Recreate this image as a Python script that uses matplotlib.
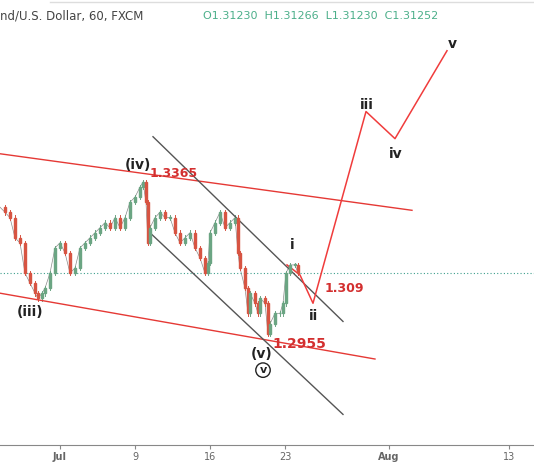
import matplotlib
matplotlib.use("Agg")
import matplotlib.pyplot as plt

# time index (chart units) and closing prices
t = [0,5,10,15,20,25,30,35,38,42,45,50,55,60,65,70,75,80,85,90,95,100,105,110,115,120,125,130,135,140,143,146,148,150,155,160,165,170,175,180,185,190,195,200,205,208,210,215,220,225,230,235,238,240,245,248,250,255,258,260,265,268,270,275,280,283,286,290,295,298]
close = [1.3295,1.3282,1.3268,1.3216,1.3203,1.3125,1.3099,1.3073,1.3060,1.3073,1.3086,1.3125,1.3190,1.3203,1.3177,1.3125,1.3138,1.3190,1.3203,1.3216,1.3229,1.3242,1.3255,1.3242,1.3268,1.3242,1.3268,1.3308,1.3321,1.3347,1.3360,1.3308,1.3203,1.3242,1.3268,1.3282,1.3268,1.3268,1.3229,1.3203,1.3216,1.3229,1.3190,1.3164,1.3125,1.3151,1.3229,1.3255,1.3282,1.3242,1.3255,1.3268,1.3177,1.3138,1.3086,1.3021,1.3073,1.3047,1.3021,1.3060,1.3047,1.2968,1.2994,1.3021,1.3021,1.3047,1.3125,1.3146,1.3146,1.3125]

tick_pos = [60,135,210,285,389,509]
tick_lab = ["Jul","9","16","23","Aug","13"]

red_upper = ([0,412],[1.3433,1.3287])
red_lower = ([0,375],[1.3073,1.2903])
gray_upper = ([153,343],[1.3477,1.3000])
gray_lower = ([150,343],[1.3229,1.2760])
proj_t = [287,300,313,366,395,447]
proj_p = [1.3146,1.3120,1.3047,1.3542,1.3472,1.3699]
last_price = 1.3125

fig = plt.figure(figsize=(5.34,4.62),dpi=100)
ax = fig.add_axes([0,17/462,1,445/462])
ax.set_xlim(0,534)
ax.set_ylim(1.2681,1.3830)

up,dn = "#6ba583","#d75442"
for i in range(1,len(t)):
    o,c = close[i-1],close[i]
    col = up if c>=o else dn
    hi,lo = max(o,c)+0.0006, min(o,c)-0.0006
    ax.plot([t[i],t[i]],[lo,hi],color=col,lw=0.7,zorder=2)
    ax.add_patch(plt.Rectangle((t[i]-1.2,min(o,c)),2.4,max(abs(c-o),0.0002),color=col,zorder=3))
ax.plot(t,close,color="#8a8a8a",lw=0.5,zorder=1)

ax.axhline(last_price,color="#3d9e8c",lw=0.8,ls=(0,(1,2)))
ax.plot(*red_upper,color="#e53935",lw=1)
ax.plot(*red_lower,color="#e53935",lw=1)
ax.plot(*gray_upper,color="#555555",lw=1)
ax.plot(*gray_lower,color="#555555",lw=1)
ax.plot(proj_t,proj_p,color="#f03c3c",lw=1.1)

def py(y): return 1.3365-(y-178)*0.000261
lab = dict(fontsize=10,fontweight="bold",color="#222222",ha="center",va="center")
ax.text(138,py(163),"(iv)",**lab)
ax.text(292,py(242),"i",**lab)
ax.text(313,py(312),"ii",**lab)
ax.text(367,py(104),"iii",**lab)
ax.text(396,py(152),"iv",**lab)
ax.text(452,py(43),"v",**lab)
ax.text(30,py(308),"(iii)",**lab)
ax.text(262,py(350),"(v)",**lab)
ax.text(263,py(366),"v",fontsize=8,fontweight="bold",color="#222222",ha="center",va="center",
        bbox=dict(boxstyle="circle,pad=0.2",fc="none",ec="#222222",lw=1))
ax.text(150,py(171),"1.3365",fontsize=9,fontweight="bold",color="#d32f2f",va="center")
ax.text(325,py(285),"1.309",fontsize=9,fontweight="bold",color="#d32f2f",va="center")
ax.text(272,py(340),"1.2955",fontsize=10,fontweight="bold",color="#d32f2f",va="center")

for s in ["top","right","left"]:
    ax.spines[s].set_visible(False)
ax.spines["bottom"].set_color("#888888")
ax.set_yticks([])
ax.set_xticks(tick_pos)
ax.set_xticklabels(tick_lab,fontsize=7,color="#666666")
for lbl in ax.get_xticklabels():
    if lbl.get_text() in ("Jul","Aug"): lbl.set_fontweight("bold")
ax.tick_params(axis="x",length=3,color="#888888",pad=2)

fig.text(0,1-16/462,"nd/U.S. Dollar, 60, FXCM",fontsize=8.5,color="#444444",va="center")
fig.text(203/534,1-16/462,"O1.31230  H1.31266  L1.31230  C1.31252",fontsize=8,color="#4caf8a",va="center")
fig.add_artist(plt.Line2D([50/534,1],[1-2/462]*2,color="#dddddd",lw=1))
fig.savefig("out.png",dpi=100)
